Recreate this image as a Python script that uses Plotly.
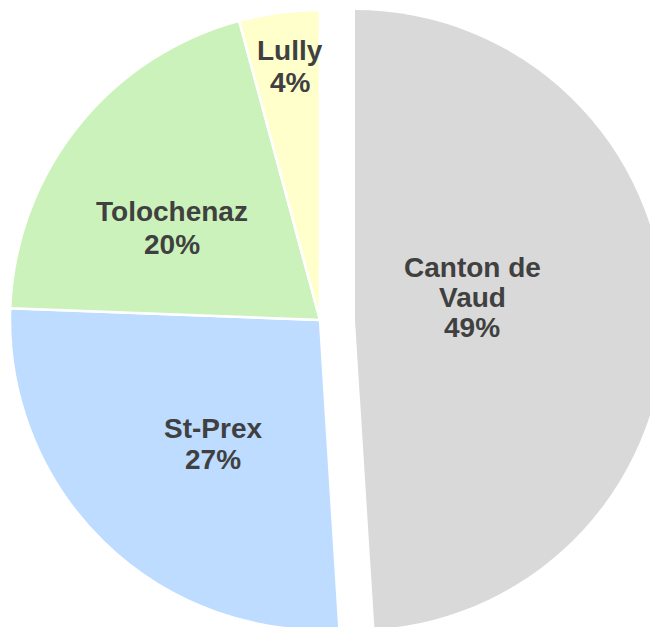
import plotly.graph_objects as go

# data
labels = ["Canton de Vaud", "St-Prex", "Tolochenaz", "Lully"]
label_lines = [["Canton de", "Vaud"], ["St-Prex"], ["Tolochenaz"], ["Lully"]]
values = [49.0, 26.6, 20.2, 4.2]
colors = ["#D9D9D9", "#BDDCFF", "#CCF2BB", "#FFFFCC"]

W, H = 658, 627
OFF = 8  # page body margin

# where each label block's first baseline sits (page pixels) and line step
label_pos = [(472, 277), (213, 438), (172, 222), (290, 61)]
line_steps = [30, 32, 32, 31]


def px_domain(cx, cy, r):
    cx, cy = cx - OFF, cy - OFF
    return dict(
        x=[max(0, (cx - r) / W), min(1, (cx + r) / W)],
        y=[max(0, (H - cy - r) / H), min(1, (H - cy + r) / H)],
    )


# first slice is drawn as its own trace so it can be pulled out a fixed distance
base_colors = ["rgba(0,0,0,0)"] + colors[1:]
pull_colors = [colors[0]] + ["rgba(0,0,0,0)"] * 3

common = dict(
    labels=labels,
    values=values,
    sort=False,
    direction="clockwise",
    rotation=0,
    textinfo="none",
    hoverinfo="label+percent",
    showlegend=False,
)

fig = go.Figure()

fig.add_trace(go.Pie(
    marker=dict(colors=base_colors, line=dict(color="white", width=2.5)),
    domain=px_domain(320, 320, 310),
    **common
))

fig.add_trace(go.Pie(
    marker=dict(colors=pull_colors, line=dict(color="rgba(0,0,0,0)", width=0)),
    domain=px_domain(355, 320, 310),
    **common
))

total = sum(values)
for lines, v, (x0, y0), step in zip(label_lines, values, label_pos, line_steps):
    all_lines = lines + [f"{int(100 * v / total + 0.5)}%"]
    for i, line in enumerate(all_lines):
        yb = y0 + i * step
        fig.add_annotation(
            x=(x0 - OFF) / W,
            y=1 - (yb - 10 - OFF) / H,
            xref="paper",
            yref="paper",
            text=line,
            showarrow=False,
            xanchor="center",
            yanchor="middle",
            font=dict(family="Liberation Sans", size=28, color="#404040", weight="bold"),
        )

fig.update_layout(
    width=W,
    height=H,
    margin=dict(l=0, r=0, t=0, b=0),
    paper_bgcolor="white",
    plot_bgcolor="white",
)

fig.write_html("out.html")
